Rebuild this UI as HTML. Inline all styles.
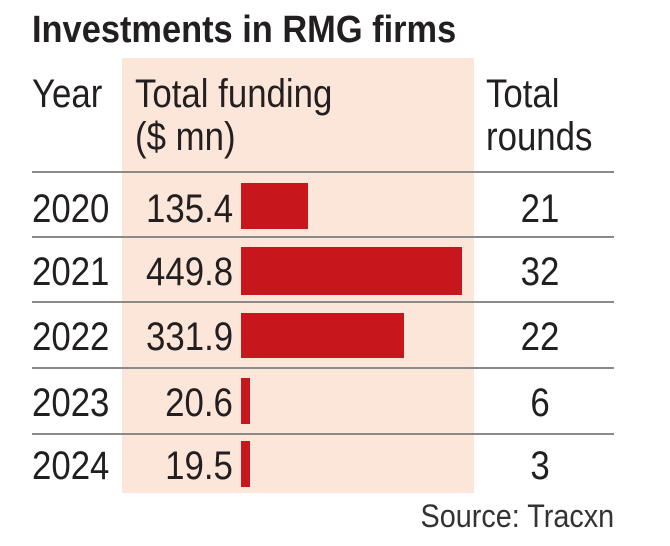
<!DOCTYPE html><html><head><style>
body{margin:0;width:670px;height:546px;background:#fff;position:relative;overflow:hidden;font-family:"Liberation Sans Narrow","Liberation Sans",sans-serif;color:#231f20}
div{position:absolute;white-space:nowrap}
.t{font-size:40px;line-height:1;transform:scaleX(0.87);transform-origin:left top}
.r{transform-origin:right top}
.c{transform-origin:center top}
.l{left:32px;width:582px;height:2px;background:#8a8a8a}
.b{background:#c8161d;left:241px}
</style></head><body>
<div style="left:32px;top:9px;font-size:38px;font-weight:bold;transform:scaleX(0.905);transform-origin:left top">Investments in RMG firms</div>
<div style="left:122px;top:58px;width:352px;height:435px;background:#fce6d9"></div>
<div class="t" style="left:32px;top:74px">Year</div>
<div class="t" style="left:135px;top:74px">Total funding</div>
<div class="t" style="left:135px;top:117px">($ mn)</div>
<div class="t" style="left:486px;top:74px">Total</div>
<div class="t" style="left:486px;top:117px">rounds</div>
<div class="l" style="top:171px"></div>
<div class="l" style="top:236px"></div>
<div class="l" style="top:301px"></div>
<div class="l" style="top:367px"></div>
<div class="l" style="top:433px"></div>
<div class="t" style="left:32px;top:189px">2020</div>
<div class="t" style="left:32px;top:252px">2021</div>
<div class="t" style="left:32px;top:317px">2022</div>
<div class="t" style="left:32px;top:383px">2023</div>
<div class="t" style="left:32px;top:446px">2024</div>
<div class="t r" style="right:437px;top:189px">135.4</div>
<div class="t r" style="right:437px;top:252px">449.8</div>
<div class="t r" style="right:437px;top:317px">331.9</div>
<div class="t r" style="right:437px;top:383px">20.6</div>
<div class="t r" style="right:437px;top:446px">19.5</div>
<div class="b" style="top:183px;width:67px;height:46px"></div>
<div class="b" style="top:247px;width:221px;height:48px"></div>
<div class="b" style="top:313px;width:163px;height:45px"></div>
<div class="b" style="top:378px;width:9px;height:46px"></div>
<div class="b" style="top:441px;width:9px;height:46px"></div>
<div class="t c" style="left:490px;width:100px;text-align:center;top:189px">21</div>
<div class="t c" style="left:490px;width:100px;text-align:center;top:252px">32</div>
<div class="t c" style="left:490px;width:100px;text-align:center;top:317px">22</div>
<div class="t c" style="left:490px;width:100px;text-align:center;top:383px">6</div>
<div class="t c" style="left:490px;width:100px;text-align:center;top:446px">3</div>
<div style="right:56px;top:498px;font-size:32px;color:#333;transform:scaleX(0.9);transform-origin:right top">Source: Tracxn</div>
</body></html>
